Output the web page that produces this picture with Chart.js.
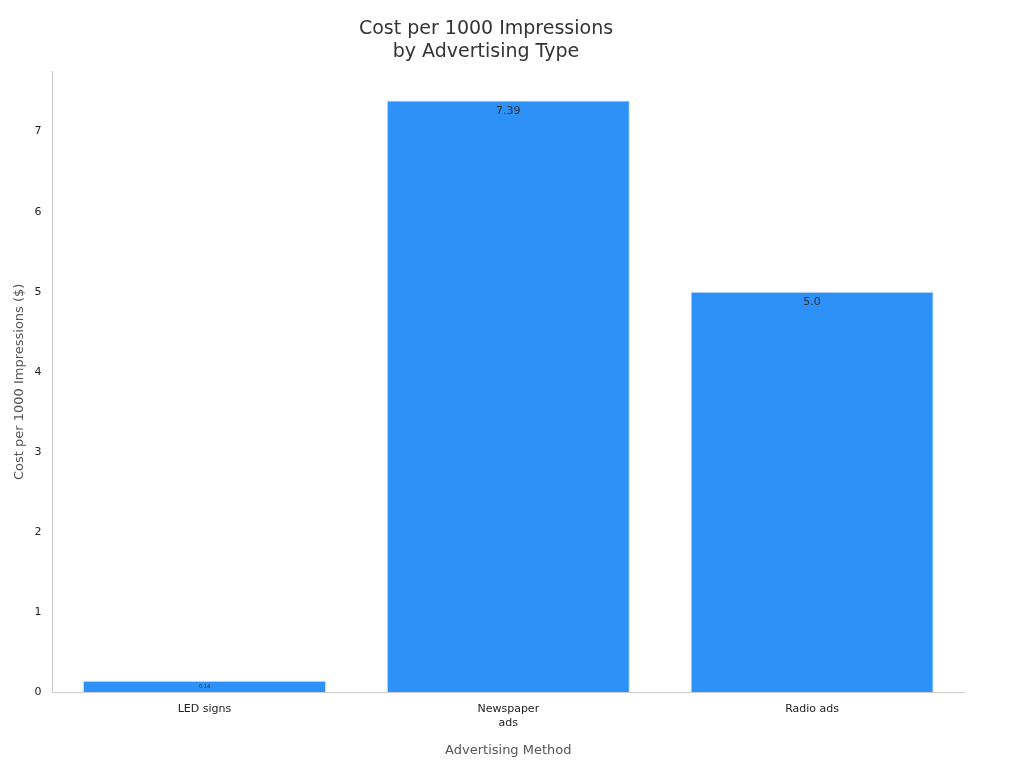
<!DOCTYPE html>
<html>
<head>
<meta charset="utf-8">
<script src="https://cdn.jsdelivr.net/npm/chart.js@4"></script>
<style>
  body { margin: 0; background: #fff; }
</style>
</head>
<body>
<canvas id="myChart" width="1024" height="768"></canvas>
<script>
const categories = [['LED signs'], ['Newspaper', 'ads'], ['Radio ads']];
const costs = [0.14, 7.39, 5.0];
const valueLabels = ['0.14', '7.39', '5.0'];
const labelSizes = [5, 11, 11];

// write each value just under the top of its bar
const barLabels = {
  id: 'barLabels',
  afterDatasetsDraw(chart) {
    const ctx = chart.ctx;
    const meta = chart.getDatasetMeta(0);
    ctx.save();
    ctx.fillStyle = '#333';
    ctx.textAlign = 'center';
    ctx.textBaseline = 'top';
    meta.data.forEach((bar, i) => {
      ctx.font = labelSizes[i] + 'px "DejaVu Sans"';
      ctx.fillText(valueLabels[i], bar.x, bar.y + (i === 0 ? 3 : 5));
    });
    ctx.restore();
  }
};

new Chart('myChart', {
  type: 'bar',
  data: {
    labels: categories,
    datasets: [{
      data: costs,
      backgroundColor: '#2e91f8',
      borderColor: '#c9e0fb',
      borderWidth: 1,
      categoryPercentage: 1,
      barPercentage: 0.8
    }]
  },
  options: {
    responsive: false,
    animation: false,
    devicePixelRatio: 1,
    layout: { padding: { left: 8, right: 60, top: 10, bottom: 6 } },
    plugins: {
      legend: { display: false },
      tooltip: { enabled: false },
      title: {
        display: true,
        text: ['Cost per 1000 Impressions', 'by Advertising Type'],
        color: '#333',
        font: { family: 'DejaVu Sans', size: 19, weight: 'normal' },
        padding: { top: 8, bottom: 8 }
      }
    },
    scales: {
      x: {
        grid: { display: false, drawTicks: true },
        border: { color: '#ccc' },
        ticks: { color: '#222', font: { family: 'DejaVu Sans', size: 11 } },
        title: {
          display: true, text: 'Advertising Method', color: '#555',
          font: { family: 'DejaVu Sans', size: 13 }, padding: { top: 10 }
        }
      },
      y: {
        min: 0, max: 7.75,
        grid: { display: false, drawTicks: true },
        border: { color: '#ccc' },
        ticks: {
          stepSize: 1, color: '#222',
          font: { family: 'DejaVu Sans', size: 11 }
        },
        afterBuildTicks: axis => { axis.ticks = axis.ticks.filter(t => Number.isInteger(t.value)); },
        title: {
          display: true, text: 'Cost per 1000 Impressions ($)', color: '#555',
          font: { family: 'DejaVu Sans', size: 13 }
        }
      }
    }
  },
  plugins: [barLabels]
});
</script>
</body>
</html>
